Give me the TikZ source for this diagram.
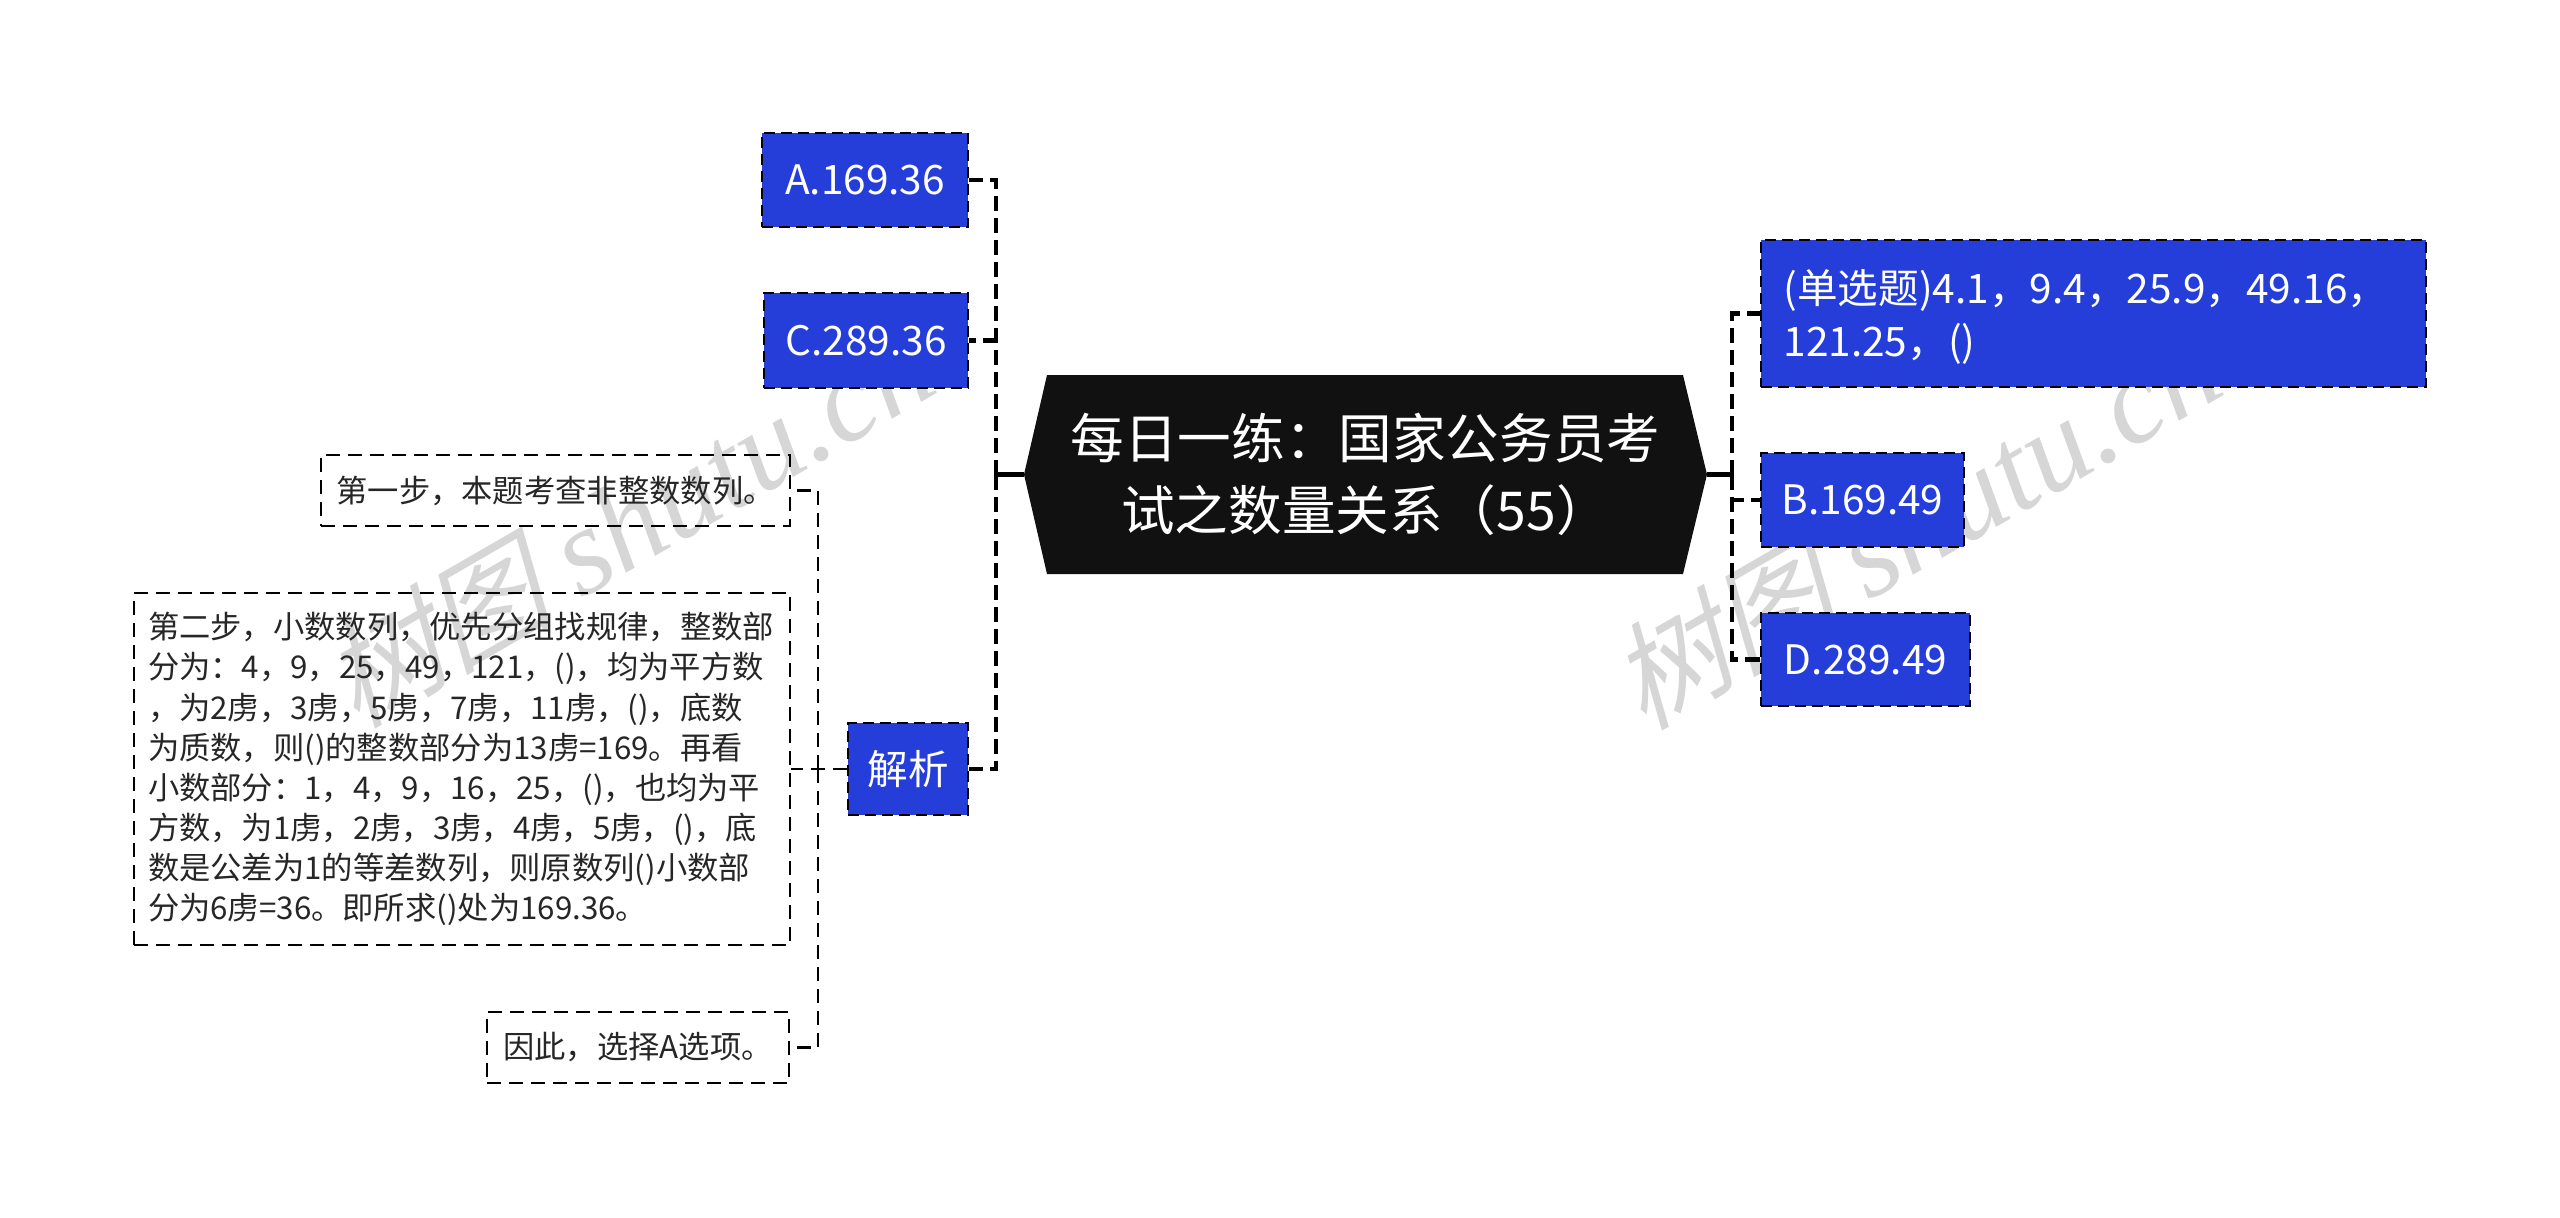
\documentclass[tikz,border=0pt]{standalone}
\usepackage{fontspec}
\setmainfont{Noto Sans CJK SC}
\newfontfamily\wmlatin[Ligatures=TeX]{Liberation Serif}
\newfontfamily\wmcjk[FakeSlant=0.25]{Noto Sans CJK SC}
\definecolor{boxblue}{HTML}{253ED9}
\definecolor{rootblack}{HTML}{111111}
\definecolor{wmgray}{HTML}{D6D6D6}
\tikzset{
  bluebox/.style={draw=black,fill=boxblue,text=white,line width=1.4pt,dash pattern=on 5.5pt off 3pt,inner sep=0pt,align=left,font=\fontsize{20.3}{26.5}\selectfont},
  notebox/.style={draw=black,text=black!85,line width=1.2pt,dash pattern=on 7pt off 4pt,inner sep=0pt,align=left,font=\fontsize{15.65}{20.05}\selectfont},
  rootbox/.style={text=white,inner sep=0pt,align=center,minimum width=341.5pt,minimum height=99.5pt,font=\fontsize{26.8}{36}\selectfont},
  solidlink/.style={line width=2.2pt,draw=black},
  thicklink/.style={line width=2.3pt,draw=black,dash pattern=on 7.5pt off 3.5pt},
  thinlink/.style={line width=1.2pt,draw=black,dash pattern=on 7pt off 4pt},
  wmark/.style={text=wmgray,rotate=30,inner sep=0pt}
}
\newcommand{\wmtext}{{\fontsize{58}{60}\selectfont\wmcjk 树图}\hspace{14pt}{\fontsize{62}{60}\selectfont\wmlatin\itshape shutu.cn}}
\begin{document}
\begin{tikzpicture}[x=0.5pt,y=-0.5pt]
\useasboundingbox[fill=white] (0,0) rectangle (2560,1217);
% watermark
\node[wmark] (wma) at (627,522) {\wmtext};
\node[wmark] (wmb) at (1914,524) {\wmtext};
% root
\fill[rootblack] (1024,474.5) -- (1047,375) -- (1683,375) -- (1707,474.5) -- (1683,574) -- (1047,574) -- cycle;
\node[rootbox] (root) at (1365.5,474.5) {每日一练：国家公务员考\\试之数量关系（55）};
% left branches
\node[bluebox,minimum width=103pt,minimum height=47pt,align=center] (a) at (865,180) {A.169.36};
\node[bluebox,minimum width=102pt,minimum height=47.5pt,align=center] (c) at (866,340.5) {C.289.36};
\node[bluebox,minimum width=60pt,minimum height=46pt,align=center] (jx) at (908,769) {解析};
% right branches
\node[bluebox,minimum width=332.5pt,minimum height=73.5pt,text width=310pt] (q) at (2093.5,313.5) {\rule{0pt}{20.5pt}(单选题)4.1，9.4，25.9，49.16，\\121.25，()};
\node[bluebox,minimum width=101.5pt,minimum height=47pt,align=center] (b) at (1862.5,500) {B.169.49};
\node[bluebox,minimum width=104.5pt,minimum height=46.5pt,align=center] (d) at (1865.5,659.5) {D.289.49};
% notes
\node[notebox,minimum width=234.5pt,minimum height=35.5pt,align=center] (s1) at (555.5,490.5) {第一步，本题考查非整数数列。};
\node[notebox,minimum width=328pt,minimum height=176pt,text width=314pt] (s2) at (462,769) {第二步，小数数列，优先分组找规律，整数部\\分为：4，9，25，49，121，()，均为平方数\\，为2虏，3虏，5虏，7虏，11虏，()，底数\\为质数，则()的整数部分为13虏=169。再看\\小数部分：1，4，9，16，25，()，也均为平\\方数，为1虏，2虏，3虏，4虏，5虏，()，底\\数是公差为1的等差数列，则原数列()小数部\\分为6虏=36。即所求()处为169.36。};
\node[notebox,minimum width=151pt,minimum height=35.5pt,align=center] (s3) at (638,1047.5) {因此，选择A选项。};
% junctions
\coordinate (tl) at (996,474.5);
\coordinate (tr) at (1732,474.5);
\coordinate (tj) at (818,769);
% connectors
\draw[solidlink] (root.west) -- (tl);
\draw[solidlink] (root.east) -- (tr);
\draw[thicklink] (tl) |- (a.east);
\draw[thicklink] (tl) |- (c.east);
\draw[thicklink] (tl) |- (jx.east);
\draw[thicklink] (tr) |- (q.west);
\draw[thicklink] (tr) |- (b.west);
\draw[thicklink] (tr) |- (d.west);
\draw[thinlink] (jx.west) -- (s2.east);
\draw[thinlink] (tj) |- (s1.east);
\draw[thinlink] (tj) |- (s3.east);
\end{tikzpicture}
\end{document}
